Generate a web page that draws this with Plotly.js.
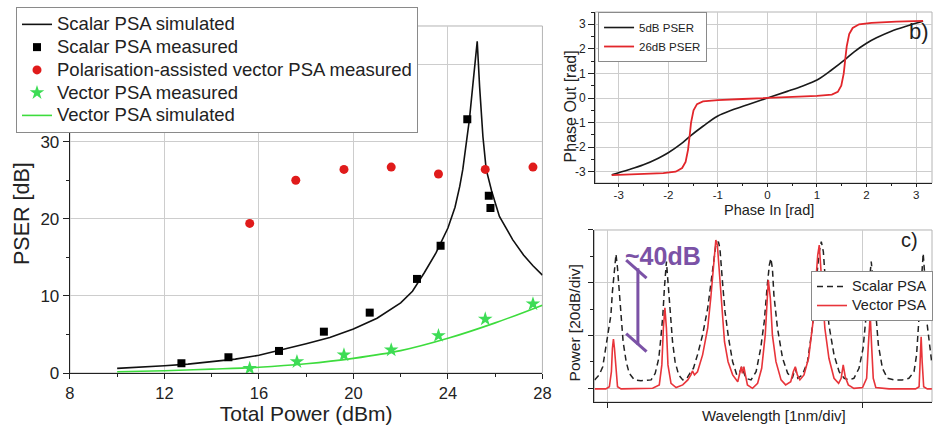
<!DOCTYPE html>
<html><head><meta charset="utf-8">
<script src="https://cdn.plot.ly/plotly-3.0.1.min.js"></script>
<style>html,body{margin:0;padding:0;background:#fff;overflow:hidden}#chart{width:933px;height:426px}</style>
</head><body><div id="chart"></div>
<script>
// ---------- Panel a: PSER vs total power ----------
const scalarSimX = [10,11,12,13,14,15,16,17,18,19,20,21,22,22.5,23,23.5,24,24.3,24.5,24.63,24.91,25.05,25.15,25.24,25.34,25.48,25.62,25.85,26.18,26.74,27.2,27.6,28];
const scalarSimY = [0.6,0.75,0.95,1.15,1.45,1.8,2.3,3.0,3.8,4.6,5.7,7.1,9.1,10.6,13.0,15.6,18.8,21.5,24.2,26.4,32.9,37.2,40.0,43.0,37.2,30.7,26.4,23.6,20.3,17.3,15.3,13.9,12.7];
const scalarMeasX = [12.72,14.71,16.85,18.75,20.69,22.69,23.69,24.82,25.73,25.80];
const scalarMeasY = [1.26,2.04,2.86,5.36,7.83,12.2,16.5,32.9,23.0,21.4];
const polVecMeasX = [15.61,17.56,19.6,21.6,23.6,25.58,27.6];
const polVecMeasY = [19.4,25.0,26.4,26.7,25.8,26.4,26.7];
const vecMeasX = [15.61,17.61,19.6,21.6,23.6,25.58,27.6];
const vecMeasY = [0.6,1.47,2.34,2.99,4.85,7.0,8.96];
const vecSimX = [10,12,14,16,18,20,22,24,26,28];
const vecSimY = [0.17,0.3,0.5,0.75,1.2,1.9,2.9,4.5,6.5,8.8];
const pserTickVals = [0,10,20,30,40];
const pserTickText = ['0','10','20','30',''];   // the 40 label sits under the legend in the original

// ---------- Panel b: phase transfer ----------
const phaseIn5 = [-3.14,-2.8,-2.5,-2.2,-2.0,-1.75,-1.57,-1.3,-1.0,-0.7,-0.4,0,0.4,0.7,1.0,1.3,1.57,1.75,2.0,2.2,2.5,2.8,3.14];
const phaseOut5 = [-3.12,-2.92,-2.72,-2.45,-2.23,-1.88,-1.57,-1.15,-0.73,-0.48,-0.27,0,0.27,0.48,0.73,1.15,1.57,1.88,2.23,2.45,2.72,2.92,3.12];
const phaseIn26 = [-3.14,-2.6,-2.1,-1.85,-1.72,-1.65,-1.6,-1.57,-1.54,-1.49,-1.42,-1.3,-1.0,-0.5,0,0.5,1.0,1.3,1.42,1.49,1.54,1.57,1.6,1.65,1.72,1.85,2.1,2.6,3.14];
const phaseOut26 = [-3.14,-3.11,-3.06,-3.0,-2.85,-2.6,-2.1,-1.57,-1.0,-0.5,-0.25,-0.14,-0.09,-0.04,0,0.04,0.09,0.14,0.25,0.5,1.0,1.57,2.1,2.6,2.85,3.0,3.06,3.11,3.14];
const phaseTickVals = [-3,-2,-1,0,1,2,3];
const phaseTickText = ['-3','-2','-1','0','1','2','3'];

// ---------- Panel c: spectra (wavelength in div units, power in dB) ----------
const wlScalar = [-0.25,-0.16,-0.09,-0.03,0.03,0.07,0.10,0.14,0.17,0.20,0.24,0.27,0.31,0.37,0.43,0.53,0.66,0.86,0.94,1.01,
  1.05,1.09,1.12,1.16,1.20,1.24,1.28,1.33,1.40,1.48,1.56,1.62,1.69,1.77,1.87,1.97,2.05,2.13,2.18,2.21,
  2.26,2.31,2.38,2.46,2.54,2.60,2.64,2.68,2.72,2.82,2.92,3.01,3.08,3.14,3.18,3.21,3.24,3.27,3.34,3.44,
  3.54,3.63,3.69,3.74,3.83,3.93,4.03,4.10,4.16,4.20,4.24,4.29,4.35,4.45,4.55,4.65,4.75,4.84,4.94,5.02,
  5.08,5.14,5.18,5.22,5.27,5.32,5.40,5.50,5.63,5.79,5.92,6.02,6.07,6.10,6.15,6.20,6.24,6.28,6.35,6.37];
const pScalar = [-56.9,-55.0,-51.9,-44.9,-38.6,-32.3,-23.4,-14.5,-9.2,-14.5,-23.4,-32.3,-42.4,-50.0,-54.4,-56.9,-57.2,-56.9,-54.4,-48.7,
  -41.1,-32.3,-22.1,-12.0,-22.1,-32.3,-42.4,-50.0,-55.0,-56.9,-56.3,-54.4,-52.5,-47.4,-39.8,-29.7,-17.1,-5.7,-4.4,-7.0,
  -19.6,-31.0,-41.1,-50.0,-55.0,-53.8,-51.9,-53.8,-56.3,-56.9,-53.8,-44.9,-34.8,-20.9,-13.3,-10.8,-14.5,-24.7,-37.3,-48.7,
  -54.4,-56.3,-52.5,-56.3,-55.0,-50.0,-36.1,-19.6,-8.2,-4.4,-8.2,-22.1,-36.1,-47.4,-53.8,-56.3,-56.9,-56.3,-52.5,-44.9,
  -32.3,-20.9,-12.0,-19.6,-32.3,-43.6,-52.5,-56.3,-56.9,-56.9,-56.3,-53.8,-47.4,-38.6,-23.4,-8.9,-19.6,-36.1,-47.4,-50.6];
const wlVector = [-0.25,-0.03,0.04,0.08,0.10,0.12,0.14,0.17,0.20,0.27,0.56,0.89,1.02,1.07,1.10,1.13,1.16,1.19,1.25,1.35,
  1.48,1.58,1.64,1.67,1.71,1.77,1.87,1.97,2.03,2.08,2.11,2.13,2.16,2.20,2.25,2.30,2.37,2.46,2.56,2.60,
  2.63,2.65,2.68,2.71,2.75,2.85,2.95,3.03,3.10,3.14,3.16,3.20,3.24,3.31,3.41,3.50,3.60,3.65,3.69,3.73,
  3.78,3.86,3.95,4.03,4.09,4.13,4.16,4.18,4.22,4.27,4.35,4.45,4.54,4.59,4.63,4.67,4.73,4.84,5.01,5.09,
  5.12,5.16,5.19,5.22,5.27,5.53,6.05,6.12,6.14,6.16,6.18,6.21,6.28,6.37];
const pVector = [-60.3,-60.3,-59.5,-53.8,-44.9,-41.4,-44.9,-53.8,-59.5,-60.3,-60.3,-60.1,-58.8,-51.2,-37.3,-29.5,-37.3,-51.2,-58.2,-59.8,
  -58.8,-56.9,-55.0,-53.5,-55.0,-53.8,-47.4,-37.3,-25.9,-14.5,-5.7,-3.8,-5.7,-17.1,-32.3,-42.4,-50.0,-55.0,-57.6,-54.4,
  -51.9,-54.4,-51.9,-55.0,-58.8,-60.1,-58.2,-52.5,-39.8,-25.9,-19.0,-25.9,-39.8,-50.0,-56.9,-58.8,-57.6,-53.8,-51.9,-55.0,
  -56.9,-55.0,-48.7,-36.1,-19.6,-9.5,-5.7,-10.8,-23.4,-37.3,-48.7,-56.3,-58.2,-56.3,-51.2,-55.7,-58.8,-60.1,-59.8,-56.3,
  -44.9,-32.3,-44.9,-56.3,-59.8,-60.3,-60.3,-59.5,-50.0,-40.5,-50.0,-59.5,-60.3,-60.3];

const FONT = 'Liberation Sans, Arial, sans-serif';
function big(t, px) { return '<span style="font-size:' + px + 'px">' + t + '</span>'; }

const traces = [
  {x: scalarSimX, y: scalarSimY, name: big('Scalar PSA simulated', 18.5), mode: 'lines', line: {color: '#111', width: 1.6}, xaxis: 'x', yaxis: 'y', legend: 'legend', legendrank: 1},
  {x: vecSimX, y: vecSimY, name: big('Vector PSA simulated', 18.5), mode: 'lines', line: {color: '#3ddc3d', width: 1.6, shape: 'spline'}, xaxis: 'x', yaxis: 'y', legend: 'legend', legendrank: 5},
  {x: scalarMeasX, y: scalarMeasY, name: big('Scalar PSA measured', 18.5), mode: 'markers', marker: {symbol: 'square', size: 8, color: '#000'}, xaxis: 'x', yaxis: 'y', legend: 'legend', legendrank: 2},
  {x: polVecMeasX, y: polVecMeasY, name: big('Polarisation-assisted vector PSA measured', 18.5), mode: 'markers', marker: {symbol: 'circle', size: 9, color: '#e01b1b'}, xaxis: 'x', yaxis: 'y', legend: 'legend', legendrank: 3},
  {x: vecMeasX, y: vecMeasY, name: big('Vector PSA measured', 18.5), mode: 'markers', marker: {symbol: 'star', size: 11, color: '#3ddc55'}, xaxis: 'x', yaxis: 'y', legend: 'legend', legendrank: 4},
  {x: phaseIn5, y: phaseOut5, name: '5dB PSER', mode: 'lines', line: {color: '#1a1a1a', width: 1.6, shape: 'spline'}, xaxis: 'x2', yaxis: 'y2', legend: 'legend2'},
  {x: phaseIn26, y: phaseOut26, name: '26dB PSER', mode: 'lines', line: {color: '#e2262b', width: 1.8}, xaxis: 'x2', yaxis: 'y2', legend: 'legend2'},
  {x: wlScalar, y: pScalar, name: big('Scalar PSA', 14.5), mode: 'lines', line: {color: '#222', width: 1.5, dash: '6px,4px'}, xaxis: 'x3', yaxis: 'y3', legend: 'legend3', legendrank: 1},
  {x: wlVector, y: pVector, name: big('Vector PSA', 14.5), mode: 'lines', line: {color: '#e8343a', width: 1.6}, xaxis: 'x3', yaxis: 'y3', legend: 'legend3', legendrank: 2}
];

const axBase = {showline: true, linecolor: '#222', linewidth: 1.2, ticks: 'outside', tickcolor: '#222', tickwidth: 1,
  showgrid: true, gridcolor: '#cdcdcd', gridwidth: 1, zeroline: false, color: '#222', automargin: false};
function ax(o) { return Object.assign({}, axBase, o); }

const layout = {
  width: 933, height: 426, margin: {l: 0, r: 0, t: 0, b: 0},
  paper_bgcolor: '#fff', plot_bgcolor: '#fff', font: {family: FONT, color: '#222'},
  showlegend: true,
  xaxis: ax({domain: [0.075, 0.582], anchor: 'y', range: [8, 28], tick0: 8, dtick: 4, ticklen: 5,
    minor: {dtick: 2, ticks: 'outside', ticklen: 3, showgrid: false}, tickfont: {size: 16.5},
    title: {text: 'Total Power (dBm)', font: {size: 21}, standoff: 4}}),
  yaxis: ax({domain: [0.1244, 0.939], anchor: 'x', range: [0, 45], tickvals: pserTickVals, ticktext: pserTickText, ticklen: 6,
    minor: {dtick: 5, tick0: 0, ticks: 'outside', ticklen: 3, showgrid: false}, tickfont: {size: 17}}),
  xaxis2: ax({domain: [0.6388, 1], anchor: 'y2', range: [-3.47, 3.32], tickvals: phaseTickVals, ticktext: phaseTickText, ticklen: 3,
    ticklabelstandoff: -2,
    minor: {dtick: 0.5, tick0: 0, ticks: 'outside', ticklen: 2, showgrid: false}, tickfont: {size: 11.5}}),
  yaxis2: ax({domain: [0.5704, 0.9718], anchor: 'x2', range: [-3.46, 3.5], tickvals: phaseTickVals, ticktext: phaseTickText, ticklen: 6,
    minor: {dtick: 0.5, tick0: 0, ticks: 'outside', ticklen: 3, showgrid: false}, tickfont: {size: 12}}),
  xaxis3: ax({domain: [0.6377, 1], anchor: 'y3', range: [-0.255, 6.373], tick0: 0, dtick: 5, ticklen: 5, showticklabels: false}),
  yaxis3: ax({domain: [0.0563, 0.4601], anchor: 'x3', range: [-65.3, 0], tick0: 0, dtick: 20, ticklen: 5,
    minor: {dtick: 10, ticks: 'outside', ticklen: 3, showgrid: false}, showticklabels: false}),
  legend: {x: 0.01715, y: 0.9836, xanchor: 'left', yanchor: 'top', bgcolor: '#fff', bordercolor: '#8a8a8a', borderwidth: 1,
    font: {size: 15.2, family: FONT, color: '#222'}, tracegroupgap: 0},
  legend2: {x: 0.641, y: 0.9718, xanchor: 'left', yanchor: 'top', bgcolor: '#fff', bordercolor: '#8a8a8a', borderwidth: 1,
    font: {size: 11.5, family: FONT, color: '#222'}, tracegroupgap: 0},
  legend3: {x: 0.8703, y: 0.3638, xanchor: 'left', yanchor: 'top', bgcolor: '#fff', bordercolor: '#8a8a8a', borderwidth: 1,
    font: {size: 11, family: FONT, color: '#222'}, tracegroupgap: 0},
  shapes: [
    {type: 'rect', xref: 'x domain', yref: 'y domain', x0: 0, x1: 1, y0: 0, y1: 1, line: {color: '#b4b4b4', width: 1}, layer: 'below'},
    {type: 'rect', xref: 'x2 domain', yref: 'y2 domain', x0: 0, x1: 1, y0: 0, y1: 1, line: {color: '#b4b4b4', width: 1}, layer: 'below'},
    {type: 'rect', xref: 'x3 domain', yref: 'y3 domain', x0: 0, x1: 1, y0: 0, y1: 1, line: {color: '#b4b4b4', width: 1}, layer: 'below'},
    {type: 'line', xref: 'x3', yref: 'y3', x0: 0.37, y0: -11.4, x1: 0.77, y1: -18.3, line: {color: '#7b52a6', width: 3}},
    {type: 'line', xref: 'x3', yref: 'y3', x0: 0.60, y0: -14.5, x1: 0.60, y1: -43.6, line: {color: '#7b52a6', width: 3}},
    {type: 'line', xref: 'x3', yref: 'y3', x0: 0.37, y0: -39.3, x1: 0.77, y1: -46.2, line: {color: '#7b52a6', width: 3}}
  ],
  annotations: [
    {text: 'PSER [dB]', xref: 'paper', yref: 'paper', x: 22 / 933, y: 1 - 213 / 426, textangle: -90, xanchor: 'center', yanchor: 'middle', showarrow: false, font: {size: 21.5, color: '#222'}},
    {text: 'Phase In [rad]', xref: 'paper', yref: 'paper', x: 770 / 933, y: 1 - 210 / 426, xanchor: 'center', yanchor: 'middle', showarrow: false, font: {size: 14.5, color: '#222'}},
    {text: 'Phase Out [rad]', xref: 'paper', yref: 'paper', x: 571 / 933, y: 1 - 106 / 426, textangle: -90, xanchor: 'center', yanchor: 'middle', showarrow: false, font: {size: 16, color: '#222'}},
    {text: 'Wavelength [1nm/div]', xref: 'paper', yref: 'paper', x: 775 / 933, y: 1 - 415 / 426, xanchor: 'center', yanchor: 'middle', showarrow: false, font: {size: 15, color: '#222'}},
    {text: 'Power [20dB/div]', xref: 'paper', yref: 'paper', x: 575 / 933, y: 1 - 323 / 426, textangle: -90, xanchor: 'center', yanchor: 'middle', showarrow: false, font: {size: 15.5, color: '#222'}},
    {text: 'b)', xref: 'paper', yref: 'paper', x: 0.999, y: 0.925, xanchor: 'right', yanchor: 'middle', showarrow: false, font: {size: 22, color: '#222'}},
    {text: 'c)', xref: 'paper', yref: 'paper', x: 0.9646, y: 0.4366, xanchor: 'left', yanchor: 'middle', showarrow: false, font: {size: 20, color: '#222'}},
    {text: '<b>~40dB</b>', xref: 'x3', yref: 'y3', x: 1.10, y: -9.9, xanchor: 'center', yanchor: 'middle', showarrow: false, font: {size: 25, color: '#7b52a6'}}
  ]
};

Plotly.newPlot('chart', traces, layout, {staticPlot: true, displayModeBar: false});
</script>
</body></html>
